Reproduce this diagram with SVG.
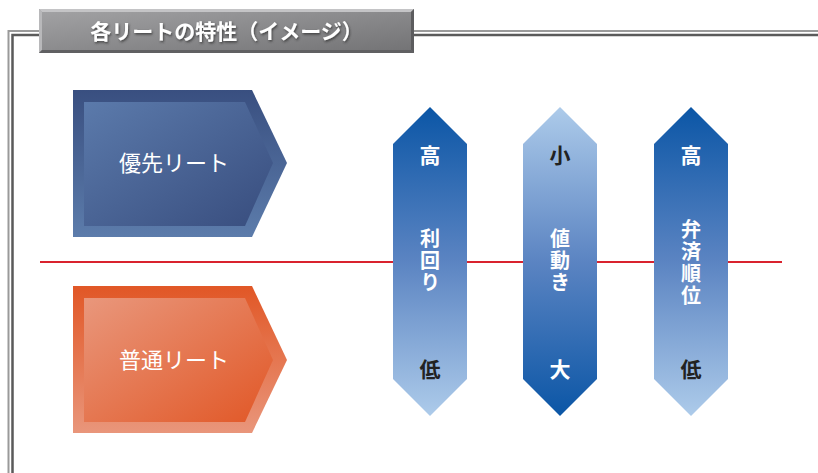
<svg xmlns="http://www.w3.org/2000/svg" width="818" height="473" viewBox="0 0 818 473">
<defs>
<linearGradient id="titleG" x1="0" y1="0" x2="1" y2="1">
<stop offset="0" stop-color="#a3a3a5"/>
<stop offset="1" stop-color="#727274"/>
</linearGradient>
<linearGradient id="blueOuter" x1="0" y1="0" x2="0" y2="1">
<stop offset="0" stop-color="#394f80"/>
<stop offset="1" stop-color="#5c7cab"/>
</linearGradient>
<linearGradient id="blueInner" x1="0" y1="0" x2="1" y2="1">
<stop offset="0" stop-color="#5b7aab"/>
<stop offset="1" stop-color="#384d7e"/>
</linearGradient>
<linearGradient id="orgOuter" x1="0" y1="0" x2="0" y2="1">
<stop offset="0" stop-color="#e15726"/>
<stop offset="1" stop-color="#e9967b"/>
</linearGradient>
<linearGradient id="orgInner" x1="0" y1="0" x2="1" y2="1">
<stop offset="0" stop-color="#e9977c"/>
<stop offset="1" stop-color="#e15726"/>
</linearGradient>
<linearGradient id="hexDown" x1="0" y1="0" x2="0" y2="1">
<stop offset="0" stop-color="#0b56a6"/>
<stop offset="0.5" stop-color="#5b84c2"/>
<stop offset="1" stop-color="#adcbea"/>
</linearGradient>
<linearGradient id="hexUp" x1="0" y1="1" x2="0" y2="0">
<stop offset="0" stop-color="#0b56a6"/>
<stop offset="0.5" stop-color="#5b84c2"/>
<stop offset="1" stop-color="#adcbea"/>
</linearGradient>
<filter id="shadow" x="-10%" y="-30%" width="120%" height="160%">
<feDropShadow dx="1" dy="1.5" stdDeviation="1" flood-color="#333" flood-opacity="0.8"/>
</filter>
</defs>
<style>
.jp { font-family: "Noto Sans CJK JP", "Noto Sans", sans-serif; }
.w { fill: #ffffff; }
.d { fill: #222222; }
.vert { font-size: 20px; font-weight: bold; text-anchor: middle; writing-mode: vertical-rl; letter-spacing: 2px; }
.big { font-size: 21px; font-weight: bold; text-anchor: middle; }
.pent { font-size: 22px; font-weight: normal; text-anchor: middle; fill: #ffffff; }
</style>

<g id="frame" fill="none">
<path d="M8.5 473 V31 H818" stroke="#9a9a9a" stroke-width="2"/>
<path d="M12.5 473 V35 H818" stroke="#5a5a5a" stroke-width="2.5"/>
</g>

<g id="title">
<rect x="39" y="9" width="375" height="44" fill="url(#titleG)"/>
<path d="M39 9 H414 L411 12 H42 Z" fill="#c4c4c6"/>
<path d="M39 9 L42 12 V50 L39 53 Z" fill="#b8b8ba"/>
<path d="M414 9 V53 L411 50 V12 Z" fill="#5c5c5e"/>
<path d="M39 53 H414 L411 50 H42 Z" fill="#606062"/>
<text x="226.5" y="38.5" class="jp" font-size="21" font-weight="bold" text-anchor="middle" fill="#ffffff" filter="url(#shadow)">各リートの特性（イメージ）</text>
</g>

<g id="red-line">
<line x1="40" y1="262" x2="782" y2="262" stroke="#d9232e" stroke-width="2"/>
</g>

<g id="senior-reit">
<polygon points="73,90 252,90 287,163 252,237 73,237" fill="url(#blueOuter)"/>
<polygon points="84,102 245,102 273,163 245,226 84,226" fill="url(#blueInner)"/>
<text x="174" y="171" class="jp pent">優先リート</text>
</g>

<g id="common-reit">
<polygon points="73,286 252,286 287,360 252,433 73,433" fill="url(#orgOuter)"/>
<polygon points="84,298 245,298 273,360 245,422 84,422" fill="url(#orgInner)"/>
<text x="174" y="368" class="jp pent">普通リート</text>
</g>

<g id="yield">
<polygon points="430,107 467,144 467,379 430,416 393,379 393,144" fill="url(#hexDown)"/>
<text x="430" y="163" class="jp w big">高</text>
<text x="430" y="261" class="jp w vert">利回り</text>
<text x="430" y="377" class="jp d big">低</text>
</g>

<g id="volatility">
<polygon points="560,107 597,144 597,379 560,416 523,379 523,144" fill="url(#hexUp)"/>
<text x="560" y="163" class="jp d big">小</text>
<text x="560" y="261" class="jp w vert">値動き</text>
<text x="560" y="377" class="jp w big">大</text>
</g>

<g id="priority">
<polygon points="691,107 728,144 728,379 691,416 654,379 654,144" fill="url(#hexDown)"/>
<text x="691" y="163" class="jp w big">高</text>
<text x="691" y="263" class="jp w vert">弁済順位</text>
<text x="691" y="377" class="jp d big">低</text>
</g>
</svg>
